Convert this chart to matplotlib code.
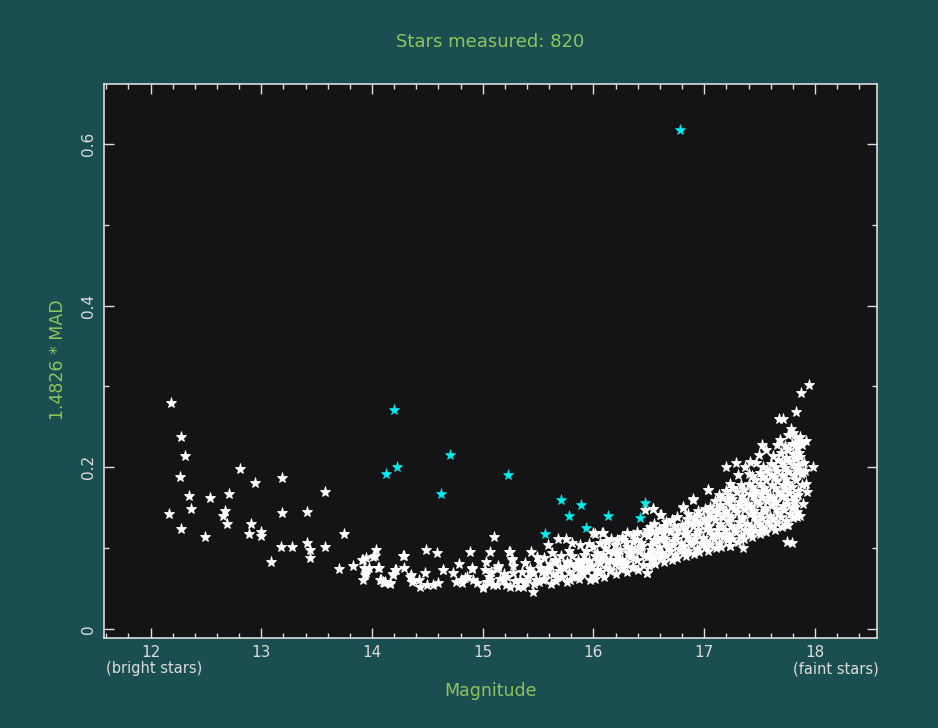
import matplotlib
matplotlib.use("Agg")
import matplotlib.pyplot as plt
from matplotlib.ticker import MultipleLocator, FixedLocator

# ---------------- data ----------------
title_text = "Stars measured: 820"
x_label = "Magnitude"
y_label = "1.4826 * MAD"
x_ticks = [12, 13, 14, 15, 16, 17, 18]
x_tick_labels = ["12", "13", "14", "15", "16", "17", "18"]
y_ticks = [0.0, 0.2, 0.4, 0.6]
y_tick_labels = ["0", "0.2", "0.4", "0.6"]

# flagged (cyan) stars
cyan_mag = [16.78, 14.20, 14.13, 14.225, 14.70, 14.62, 15.23, 15.71, 15.89,
            15.78, 16.13, 15.93, 16.465, 16.42, 15.56]
cyan_mad = [0.617, 0.271, 0.192, 0.200, 0.215, 0.167, 0.190, 0.160, 0.153,
            0.140, 0.140, 0.125, 0.156, 0.137, 0.1175]

# normal (white) stars, grouped roughly by magnitude
white_mag = [
    # bright sparse part
    12.185, 12.275, 12.31, 12.27, 12.345, 12.54, 12.71, 12.81, 12.94, 13.19, 13.575,
    12.17, 12.37, 12.275, 12.49, 12.67, 12.655, 12.69, 12.905, 12.89, 13.0, 13.0,
    13.19, 13.41, 13.18, 13.28, 13.41, 13.44, 13.44, 13.58, 13.75, 13.09,
    # 13.7 - 14.3
    13.70, 13.83, 13.91, 13.95, 14.04, 14.03, 14.01, 13.925, 13.975, 14.05, 13.945,
    13.92, 14.08, 14.105, 14.16, 14.21, 14.19, 13.92, 14.29, 14.22, 14.06, 13.94,
    14.07, 14.12,
    # 14.3 - 15.1
    14.28, 14.49, 14.59, 14.885, 15.065, 14.29, 14.19, 14.355, 14.475, 14.64, 14.79,
    14.73, 14.905, 15.03, 15.14, 14.43, 14.495, 14.60, 14.37, 14.10, 14.16, 14.80,
    14.855, 14.945, 15.005, 15.065, 15.125, 14.34, 14.36, 14.42, 14.555, 14.645,
    14.755, 14.81, 14.84, 14.90, 14.91, 15.0, 15.02, 15.06, 15.095, 15.14, 15.105,
    # 15.1 - 15.9
    15.215, 15.275, 15.335, 15.395, 15.455, 15.425, 15.515, 15.575, 15.67, 15.70,
    15.76, 15.85, 15.94, 15.24, 15.26, 15.44, 15.49, 15.59, 15.68, 15.75, 15.81,
    15.88, 15.96, 15.245, 15.26, 15.18, 15.365, 15.455, 15.485, 15.54, 15.59,
    15.665, 15.665, 15.73, 15.79, 15.85, 15.91, 15.97, 15.85, 15.79, 15.97, 15.245,
    15.04, 15.07, 15.16, 15.13, 15.21, 15.19, 15.29, 15.27, 15.32, 15.35, 15.41,
    15.38, 15.46, 15.43,
    15.51, 15.535, 15.505, 15.565, 15.58, 15.555, 15.615, 15.63, 15.605, 15.625,
    15.665, 15.685, 15.655, 15.715, 15.73, 15.705, 15.765, 15.78, 15.76, 15.775,
    15.815, 15.83, 15.805, 15.865, 15.88, 15.86,
    # 15.9 - 16.5
    16.01, 16.08, 16.11, 16.30, 16.39, 16.48, 16.465, 16.54, 16.015, 16.03, 16.12,
    16.18, 16.24, 16.33, 16.42, 16.48, 16.36, 16.54, 16.57, 16.0, 16.09, 16.12,
    16.03, 16.09, 16.15, 16.21, 16.24, 16.30, 16.33, 16.39, 16.43, 16.48, 16.21,
    16.27, 16.36, 16.15, 16.27, 16.06,
    15.905, 15.89, 15.915, 15.945, 15.96, 15.935, 16.005, 15.99, 16.015, 15.995,
    16.045, 16.06, 16.035, 16.055, 16.095, 16.11, 16.085, 16.105, 16.145, 16.16, 16.135, 16.155,
    16.205, 16.19, 16.215, 16.195, 16.245, 16.26, 16.235, 16.255, 16.305, 16.29, 16.315, 16.295,
    16.345, 16.36, 16.335, 16.355, 16.405, 16.39, 16.415, 16.395, 16.445, 16.46, 16.435, 16.455,
    # 16.5 - 16.8
    16.505, 16.49, 16.515, 16.495, 16.51, 16.535, 16.52, 16.545, 16.525,
    16.555, 16.57, 16.545, 16.565, 16.55, 16.605, 16.59, 16.615, 16.595, 16.61,
    16.635, 16.62, 16.645, 16.625, 16.64, 16.655, 16.67, 16.645, 16.665, 16.655,
    16.705, 16.69, 16.715, 16.695, 16.71, 16.735, 16.72, 16.745, 16.725,
    16.755, 16.77, 16.745, 16.765, 16.755, 16.805, 16.79, 16.815, 16.795, 16.81,
    # 16.8 - 17.1
    16.835, 16.82, 16.845, 16.825, 16.84, 16.855, 16.87, 16.845, 16.865, 16.855,
    16.905, 16.89, 16.915, 16.895, 16.91, 16.90, 16.935, 16.92, 16.945, 16.925, 16.94,
    16.955, 16.97, 16.945, 16.965, 16.955, 17.005, 16.99, 17.015, 16.995, 17.01,
    17.035, 17.02, 17.045, 17.025, 17.04, 17.03, 17.055, 17.07, 17.045, 17.065, 17.055,
    17.105, 17.09, 17.115, 17.095, 17.11, 17.10,
    # 17.1 - 17.4
    17.135, 17.12, 17.145, 17.125, 17.14, 17.13, 17.155, 17.17, 17.145, 17.165, 17.155, 17.16,
    17.205, 17.19, 17.215, 17.195, 17.21, 17.20,
    17.235, 17.22, 17.245, 17.225, 17.24, 17.23, 17.235,
    17.255, 17.27, 17.245, 17.265, 17.255, 17.26,
    17.305, 17.29, 17.315, 17.295, 17.31, 17.30, 17.305,
    17.335, 17.32, 17.345, 17.325, 17.34, 17.33,
    17.355, 17.37, 17.345, 17.365, 17.355, 17.36, 17.365,
    17.405, 17.39, 17.415, 17.395, 17.41, 17.40, 17.405,
    # 17.4 - 17.7
    17.435, 17.42, 17.445, 17.425, 17.44, 17.43, 17.435,
    17.455, 17.47, 17.445, 17.465, 17.455, 17.46, 17.465,
    17.505, 17.49, 17.515, 17.495, 17.51, 17.50, 17.505, 17.495,
    17.535, 17.52, 17.545, 17.525, 17.54, 17.53, 17.535,
    17.555, 17.57, 17.545, 17.565, 17.555, 17.56, 17.565, 17.555,
    17.605, 17.59, 17.615, 17.595, 17.61, 17.60, 17.605,
    17.635, 17.62, 17.645, 17.625, 17.64, 17.63, 17.635, 17.625,
    17.655, 17.67, 17.645, 17.665, 17.655, 17.66, 17.665, 17.655,
    17.705, 17.69, 17.715, 17.695, 17.71, 17.70, 17.705, 17.695,
    # 17.7 - 18.0
    17.735, 17.72, 17.745, 17.725, 17.74, 17.73, 17.735, 17.725,
    17.755, 17.77, 17.745, 17.765, 17.755, 17.76, 17.765, 17.755, 17.76,
    17.805, 17.79, 17.815, 17.795, 17.81, 17.80, 17.805, 17.795,
    17.835, 17.82, 17.845, 17.825, 17.84, 17.83, 17.835, 17.825,
    17.865, 17.85, 17.875, 17.855, 17.87, 17.895, 17.88, 17.905, 17.885,
    17.925, 17.91, 17.915,
    # faint outliers
    17.83, 17.71, 17.675, 17.78, 17.865, 17.835, 17.80, 17.685, 17.52, 17.985,
    17.915, 17.195, 17.29, 17.41, 17.035, 17.20, 16.90, 16.81, 16.60, 16.54,
    16.71, 17.35, 17.745, 17.79, 17.835, 17.82, 17.715, 17.895, 17.865, 17.85,
    16.48, 17.23, 17.41, 17.52, 17.745, 17.87, 17.95,
]
white_mad = [
    # bright sparse part
    0.280, 0.237, 0.214, 0.188, 0.164, 0.1625, 0.167, 0.198, 0.181, 0.187, 0.170,
    0.142, 0.148, 0.124, 0.114, 0.146, 0.140, 0.130, 0.130, 0.118, 0.120, 0.115,
    0.1435, 0.145, 0.102, 0.1015, 0.107, 0.0975, 0.0875, 0.102, 0.118, 0.083,
    # 13.7 - 14.3
    0.0746, 0.078, 0.0854, 0.0875, 0.098, 0.091, 0.089, 0.075, 0.076, 0.075, 0.069,
    0.0606, 0.0606, 0.057, 0.0565, 0.0726, 0.067, 0.086, 0.090, 0.073, 0.075, 0.067,
    0.061, 0.058,
    # 14.3 - 15.1
    0.090, 0.098, 0.094, 0.095, 0.0957, 0.076, 0.0677, 0.0668, 0.069, 0.0735, 0.081,
    0.069, 0.0743, 0.0833, 0.0783, 0.0516, 0.054, 0.0566, 0.0606, 0.0585, 0.0557, 0.0606,
    0.0648, 0.0565, 0.0503, 0.0606, 0.0545, 0.065, 0.0585, 0.0606, 0.0545, 0.073,
    0.0585, 0.0565, 0.0627, 0.075, 0.0606, 0.0523, 0.073, 0.0648, 0.0545, 0.077, 0.1135,
    # 15.1 - 15.9
    0.0648, 0.069, 0.0606, 0.0585, 0.0462, 0.071, 0.075, 0.069, 0.0648, 0.077,
    0.083, 0.079, 0.077, 0.0957, 0.0866, 0.0957, 0.0895, 0.104, 0.112, 0.111, 0.106,
    0.104, 0.105, 0.0957, 0.0854, 0.0606, 0.0523, 0.069, 0.0606, 0.0606, 0.073,
    0.083, 0.065, 0.077, 0.081, 0.075, 0.0854, 0.077, 0.065, 0.0606, 0.0606, 0.0523,
    0.058, 0.070, 0.062, 0.074, 0.055, 0.068, 0.060, 0.078, 0.052, 0.070, 0.064,
    0.082, 0.056, 0.074,
    0.058, 0.070, 0.083, 0.062, 0.075, 0.088, 0.056, 0.068, 0.080, 0.094,
    0.060, 0.072, 0.085, 0.064, 0.076, 0.090, 0.058, 0.070, 0.082, 0.096,
    0.066, 0.078, 0.091, 0.062, 0.074, 0.086,
    # 15.9 - 16.5
    0.1175, 0.119, 0.1085, 0.1185, 0.120, 0.122, 0.147, 0.148, 0.0615, 0.073, 0.083,
    0.0937, 0.0854, 0.0937, 0.098, 0.069, 0.077, 0.0895, 0.110, 0.1185, 0.1185, 0.108,
    0.0854, 0.0916, 0.0854, 0.098, 0.0833, 0.102, 0.0895, 0.098, 0.106, 0.0895, 0.110,
    0.110, 0.108, 0.073, 0.077, 0.071,
    0.068, 0.080, 0.092, 0.072, 0.084, 0.096, 0.066, 0.078, 0.090, 0.102,
    0.070, 0.082, 0.094, 0.106, 0.064, 0.076, 0.088, 0.100, 0.072, 0.084, 0.096, 0.112,
    0.068, 0.080, 0.092, 0.104, 0.074, 0.086, 0.098, 0.114, 0.070, 0.082, 0.094, 0.108,
    0.076, 0.088, 0.100, 0.116, 0.073, 0.085, 0.097, 0.110, 0.079, 0.091, 0.103, 0.118,
    # 16.5 - 16.8
    0.078, 0.092, 0.104, 0.115, 0.126, 0.085, 0.098, 0.110, 0.121,
    0.080, 0.095, 0.107, 0.118, 0.130, 0.088, 0.101, 0.113, 0.124, 0.141,
    0.083, 0.094, 0.106, 0.119, 0.128, 0.090, 0.100, 0.112, 0.123, 0.133,
    0.086, 0.097, 0.109, 0.120, 0.135, 0.092, 0.104, 0.116, 0.127,
    0.088, 0.099, 0.111, 0.122, 0.138, 0.094, 0.106, 0.118, 0.129, 0.150,
    # 16.8 - 17.1
    0.091, 0.103, 0.114, 0.125, 0.136, 0.097, 0.108, 0.120, 0.131, 0.142,
    0.093, 0.105, 0.116, 0.128, 0.139, 0.160, 0.099, 0.111, 0.123, 0.134, 0.146,
    0.095, 0.107, 0.119, 0.130, 0.141, 0.101, 0.113, 0.124, 0.136, 0.148,
    0.097, 0.109, 0.121, 0.132, 0.144, 0.172, 0.104, 0.116, 0.128, 0.139, 0.151,
    0.100, 0.111, 0.123, 0.135, 0.147, 0.158,
    # 17.1 - 17.4
    0.106, 0.118, 0.130, 0.142, 0.154, 0.166, 0.102, 0.114, 0.126, 0.138, 0.150, 0.162,
    0.110, 0.122, 0.134, 0.146, 0.158, 0.171,
    0.103, 0.116, 0.128, 0.140, 0.152, 0.164, 0.180,
    0.112, 0.124, 0.137, 0.149, 0.161, 0.175,
    0.108, 0.120, 0.133, 0.145, 0.157, 0.169, 0.190,
    0.115, 0.127, 0.139, 0.152, 0.164, 0.178,
    0.111, 0.123, 0.136, 0.148, 0.160, 0.172, 0.200,
    0.118, 0.130, 0.142, 0.155, 0.167, 0.180, 0.192,
    # 17.4 - 17.7
    0.114, 0.126, 0.139, 0.151, 0.164, 0.176, 0.189,
    0.121, 0.134, 0.146, 0.159, 0.171, 0.184, 0.205,
    0.117, 0.130, 0.142, 0.155, 0.168, 0.180, 0.193, 0.215,
    0.124, 0.137, 0.150, 0.162, 0.175, 0.188, 0.200,
    0.120, 0.133, 0.146, 0.159, 0.171, 0.184, 0.197, 0.222,
    0.127, 0.140, 0.153, 0.165, 0.178, 0.191, 0.204,
    0.123, 0.136, 0.149, 0.162, 0.175, 0.188, 0.201, 0.214,
    0.131, 0.144, 0.157, 0.170, 0.183, 0.196, 0.209, 0.228,
    0.126, 0.139, 0.152, 0.165, 0.178, 0.191, 0.205, 0.218,
    # 17.7 - 18.0
    0.134, 0.147, 0.160, 0.173, 0.186, 0.199, 0.212, 0.226,
    0.129, 0.142, 0.155, 0.168, 0.181, 0.194, 0.208, 0.221, 0.240,
    0.137, 0.150, 0.163, 0.176, 0.190, 0.203, 0.216, 0.229,
    0.145, 0.158, 0.171, 0.184, 0.197, 0.210, 0.224, 0.236,
    0.140, 0.166, 0.192, 0.218, 0.231, 0.155, 0.178, 0.205, 0.228,
    0.170, 0.195, 0.232,
    # faint outliers
    0.268, 0.2595, 0.260, 0.248, 0.238, 0.230, 0.2425, 0.234, 0.228, 0.201,
    0.180, 0.201, 0.205, 0.207, 0.172, 0.171, 0.1605, 0.1506, 0.141, 0.148,
    0.135, 0.1006, 0.1077, 0.107, 0.139, 0.151, 0.164, 0.193, 0.213, 0.203,
    0.069, 0.1027, 0.1185, 0.1246, 0.1287, 0.292, 0.302,
]

# ---------------- style ----------------
BG = "#1b4e51"
PANEL = "#141416"
GREEN = "#8fc45c"
LIGHT = "#dcdcdc"

plt.rcParams["font.family"] = ["DejaVu Sans"]

fig = plt.figure(figsize=(9.38, 7.28), dpi=100, facecolor=BG)
ax = fig.add_axes([104 / 938, 1 - 638 / 728, (877 - 104) / 938, (638 - 84) / 728])
ax.set_facecolor(PANEL)

ax.plot(white_mag, white_mad, linestyle="none", marker="*", ms=8,
        mfc="white", mec="white", mew=0.6, zorder=3)
ax.plot(cyan_mag, cyan_mad, linestyle="none", marker="*", ms=8,
        mfc="#00f0f0", mec="#00e0e0", mew=0.5, zorder=4)

ax.set_xlim(11.58, 18.56)
ax.set_ylim(-0.011, 0.674)

ax.xaxis.set_major_locator(FixedLocator(x_ticks))
ax.set_xticklabels(x_tick_labels)
ax.xaxis.set_minor_locator(MultipleLocator(0.2))
ax.yaxis.set_major_locator(FixedLocator(y_ticks))
ax.set_yticklabels(y_tick_labels)
ax.yaxis.set_minor_locator(MultipleLocator(0.1))

ax.tick_params(which="both", direction="in", top=True, right=True,
               color=LIGHT, labelcolor=LIGHT, labelsize=11, width=1.0)
ax.tick_params(which="major", length=7.5)
ax.tick_params(which="minor", length=3.5)
ax.tick_params(axis="x", pad=5)
ax.tick_params(axis="y", pad=6)
for lab in ax.get_yticklabels():
    lab.set_rotation(90)
    lab.set_va("center")

for sp in ax.spines.values():
    sp.set_color(LIGHT)
    sp.set_linewidth(1.2)

fig.text(490.5 / 938, 1 - 42 / 728, title_text, color=GREEN, fontsize=13,
         ha="center", va="center")
fig.text(490.5 / 938, 1 - 691 / 728, x_label, color=GREEN, fontsize=12.5,
         ha="center", va="center")
fig.text(58 / 938, 1 - 360 / 728, y_label, color=GREEN, fontsize=12.5,
         ha="center", va="center", rotation=90)
fig.text(106 / 938, 1 - 669 / 728, "(bright stars)", color=LIGHT, fontsize=10.5,
         ha="left", va="center")
fig.text(879 / 938, 1 - 669 / 728, "(faint stars)", color=LIGHT, fontsize=10.5,
         ha="right", va="center")

fig.savefig("out.png", dpi=100, facecolor=BG)
